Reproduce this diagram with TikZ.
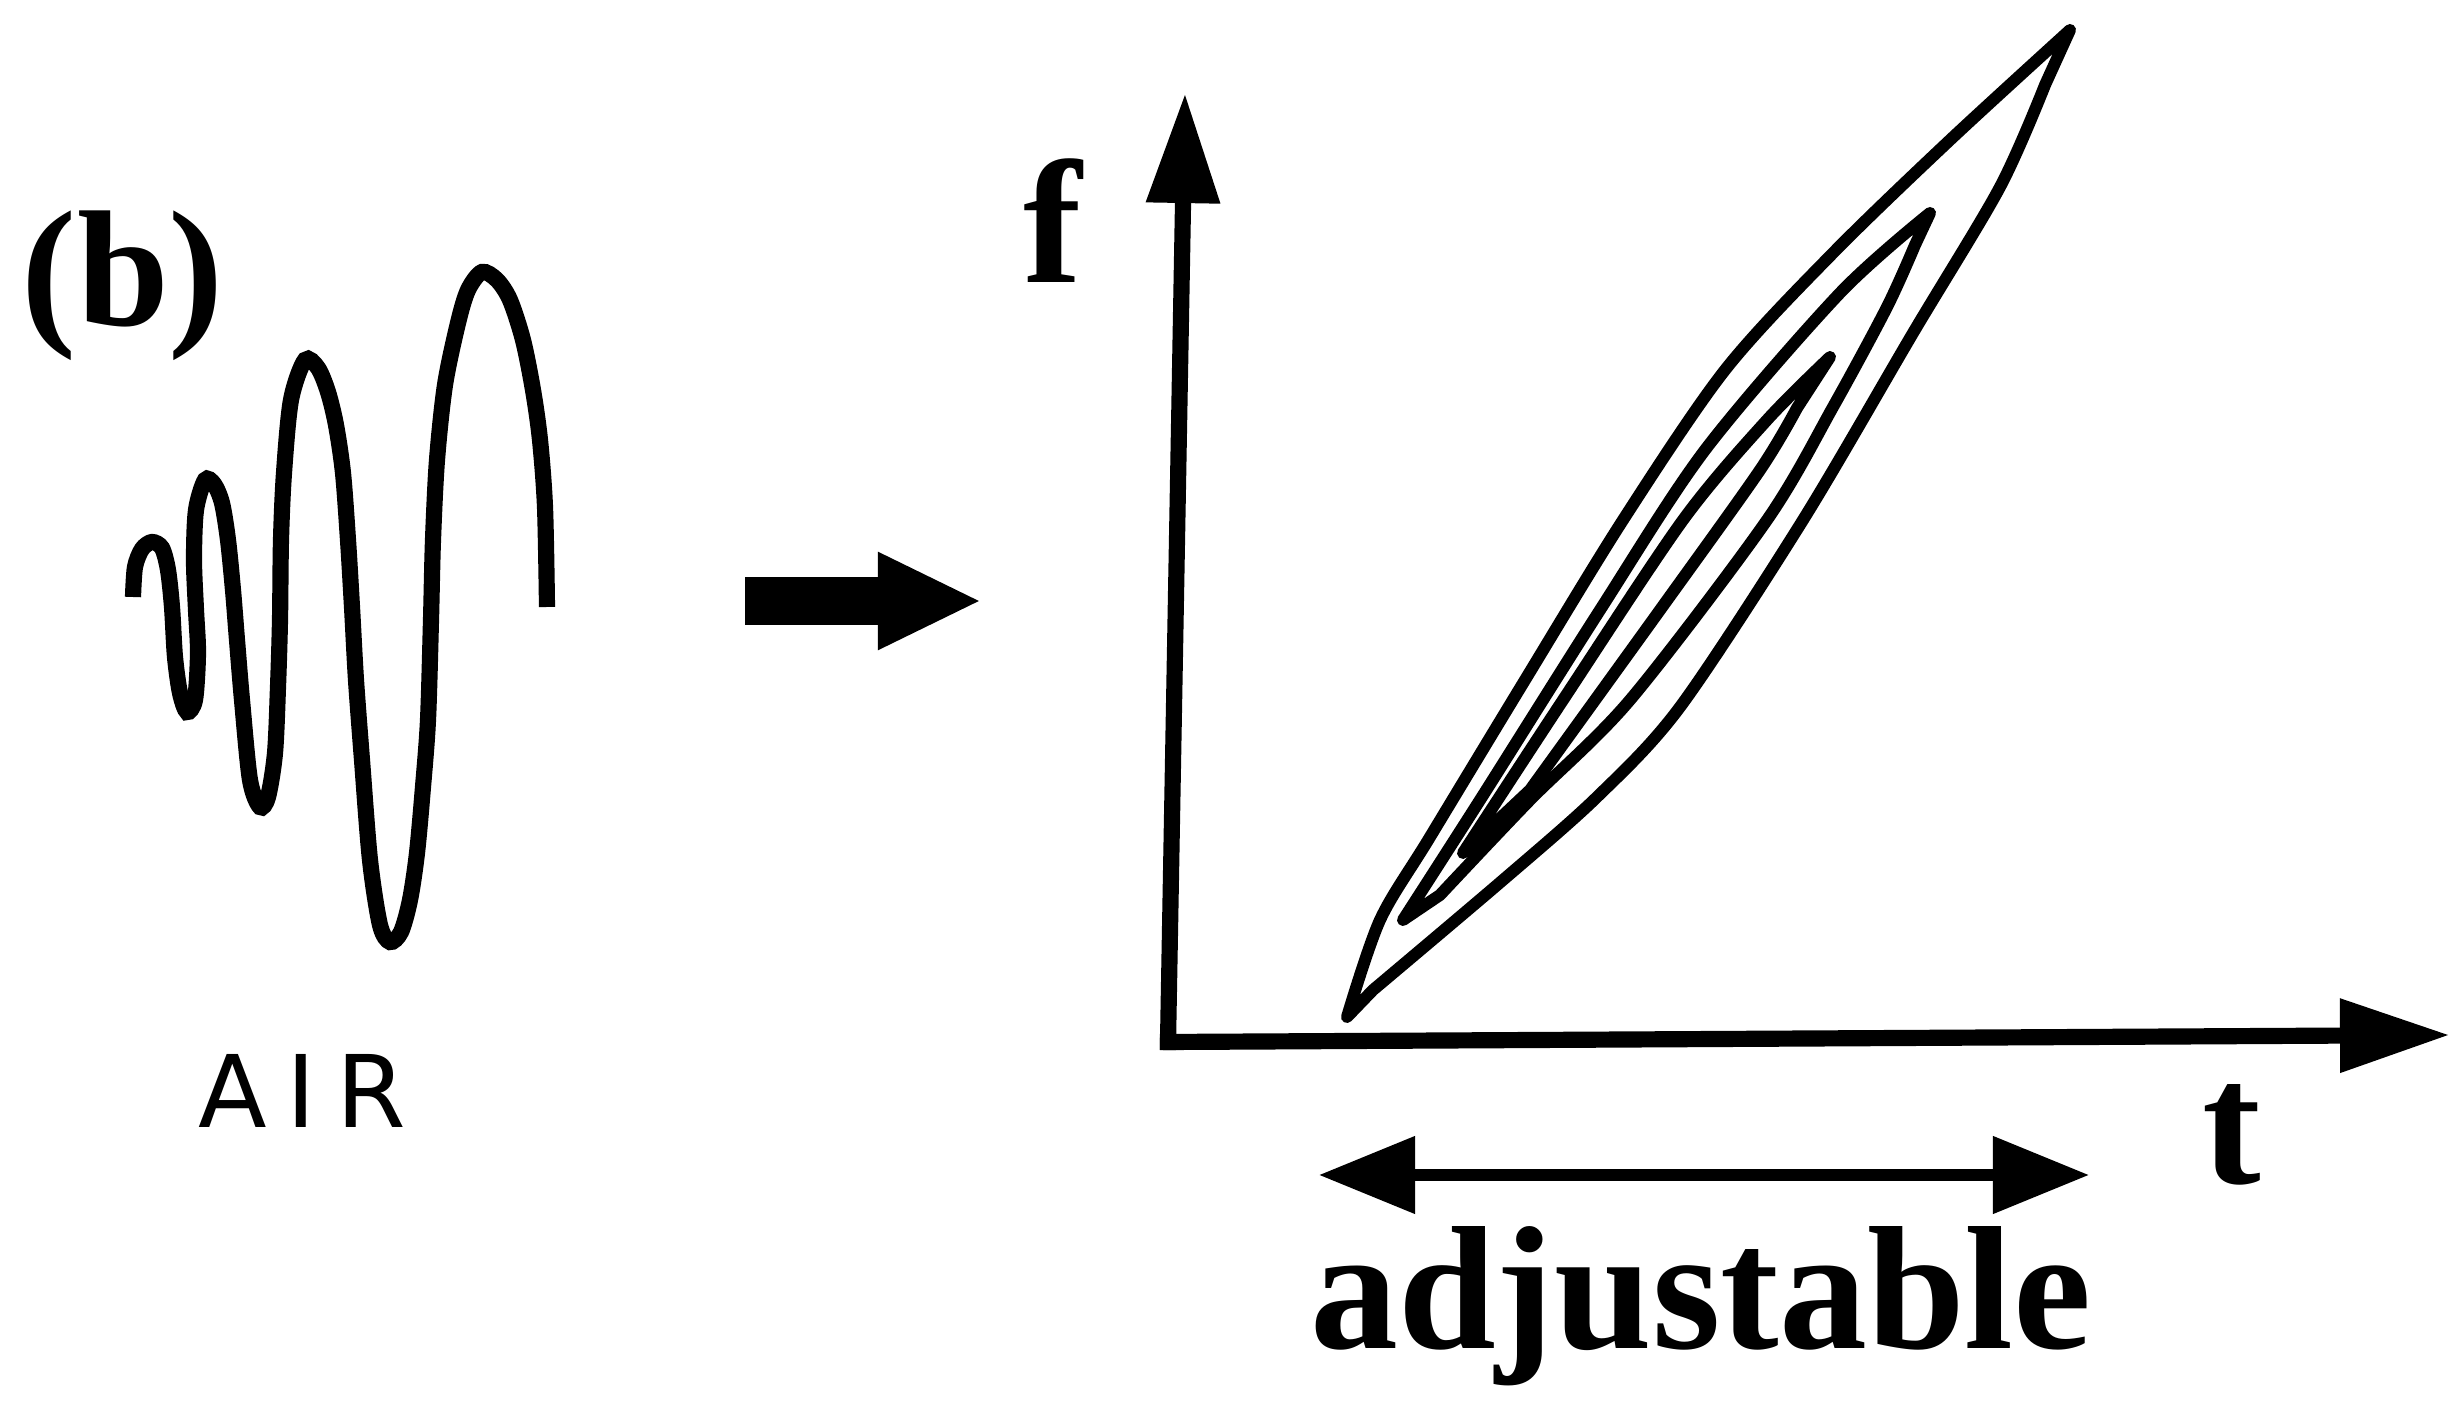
\documentclass[tikz,border=0pt]{standalone}
\usepackage{fontspec}
\setmainfont{Liberation Serif}
\newfontfamily\airfont[LetterSpace=20]{DejaVu Sans}
\usetikzlibrary{arrows.meta,positioning,calc}

\begin{document}
\begin{tikzpicture}[
    x=0.01cm, y=-0.01cm,
    lbl/.style={font=\fontsize{50}{60}\selectfont\bfseries, inner sep=0pt, anchor=base},
    axis/.style={line width=4.6pt, line cap=rect, -{Triangle[length=1.1cm, width=0.7cm]}},
    contour/.style={line width=3.4pt, line join=round},
    wave/.style={line width=4.6pt},
    span/.style={line width=3.2pt, {Triangle[length=0.96cm, width=0.75cm]}-{Triangle[length=0.96cm, width=0.75cm]}},
    ]
\useasboundingbox (0,0) rectangle (2463,1404);

% chirped signal in air
\draw[wave] plot[smooth, tension=0.5] coordinates {
    (133,597) (135,567) (142,549) (152,542) (162,548) (168,570) (172,607)
    (175,657) (180,693) (187,712) (195,700) (198,653) (196,610) (194,560)
    (196,510) (205,480) (214,484) (222,503) (228,540) (233,590) (237,640)
    (242,700) (250,780) (260,807) (268,797) (275,753) (278,687) (280,620)
    (281,540) (284,473) (291,400) (305,360) (318,368) (328,392) (336,425)
    (343,473) (348,540) (352,607) (356,680) (362,760) (370,860) (380,925)
    (390,942) (401,932) (410,900) (417,853) (423,787) (428,720) (431,620)
    (433,540) (437,460) (445,385) (458,323) (468,290) (482,272) (497,280)
    (510,300) (523,340) (533,390) (540,440) (545,507) (547,607)};
\node[inner sep=0pt, anchor=base, font=\airfont\fontsize{28.5}{34}\selectfont] (air) at (302,1128) {AIR};
\node[lbl, font=\fontsize{47}{56}\selectfont\bfseries] (b) at (123,326) {(b)};

% block arrow
\coordinate (ps) at (745,601);
\coordinate (pe) at (982,601);
\draw[line width=13.6pt, -{Triangle[length=1.04cm, width=0.9cm]}] (ps) -- (pe);

% axes
\coordinate (O) at (1168,1042);
\coordinate (fend) at (1185,93);
\coordinate (tend) at (2450,1035);
\draw[axis] (O) -- (fend);
\draw[axis] (O) -- (tend);
\node[lbl] (f) at (1053,283) {f};
\node[lbl] (t) at (2232,1183) {t};

% contours: upper edge, then lower edge back
\draw[contour] plot[smooth, tension=0.5] coordinates {
    (1347,1017) (1380,920) (1430,837) (1525,680) (1623,520) (1725,370)
    (1833,253) (1950,140) (2070,30)}
  -- plot[smooth, tension=0.5] coordinates {
    (2045,85) (2000,187) (1913,333) (1803,520) (1680,707) (1597,797) (1503,880)
    (1373,990)} -- cycle;
\draw[contour] plot[smooth, tension=0.5] coordinates {
    (1403,920) (1480,800) (1600,610) (1705,450) (1840,293) (1930,213)}
  -- plot[smooth, tension=0.5] coordinates {
    (1915,245) (1887,307) (1833,407) (1767,520) (1630,700) (1530,800) (1440,895)} -- cycle;
\draw[contour] plot[smooth, tension=0.5] coordinates {
    (1463,853) (1563,700) (1683,520) (1767,420) (1830,357)}
  -- plot[smooth, tension=0.5] coordinates {
    (1797,408) (1760,470) (1660,610) (1530,790)} -- cycle;

% adjustable window
\coordinate (dl) at (1319,1175);
\coordinate (dr) at (2089,1175);
\draw[span] (dl) -- (dr);
\node[lbl] (adj) at (1701,1348) {adjustable};
\end{tikzpicture}
\end{document}
